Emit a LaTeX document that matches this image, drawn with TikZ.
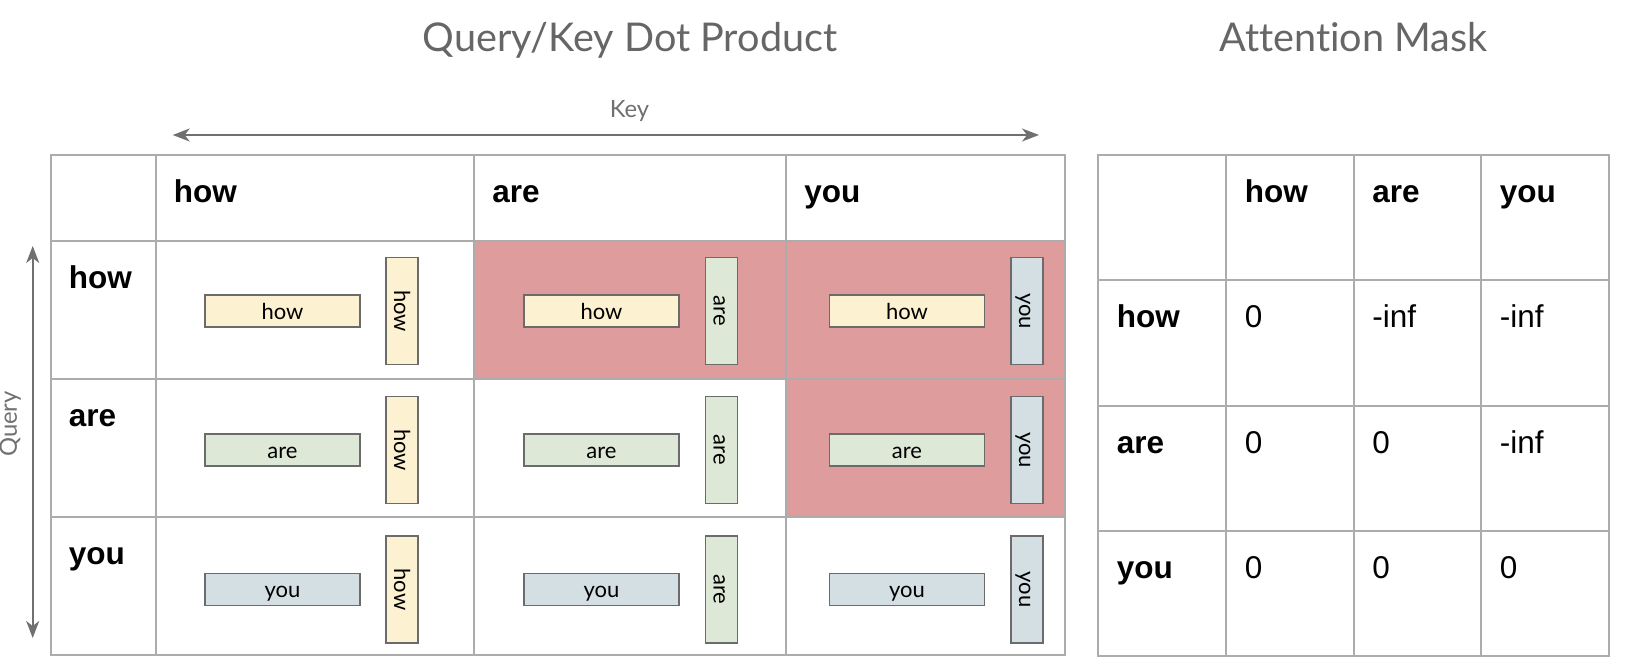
\documentclass[tikz,border=0pt]{standalone}
\usepackage{fontspec}
\setmainfont{Liberation Sans}
\newfontfamily\lato[Ligatures=NoCommon]{Lato}
\usetikzlibrary{arrows.meta, positioning}
\definecolor{gridgray}{RGB}{172,172,172}
\definecolor{axisgray}{RGB}{112,112,112}
\definecolor{titlegray}{RGB}{102,102,102}
\definecolor{maskred}{RGB}{223,156,156}
\definecolor{howyellow}{RGB}{252,241,208}
\definecolor{aregreen}{RGB}{221,232,214}
\definecolor{youblue}{RGB}{211,223,227}
\definecolor{boxgray}{RGB}{107,107,107}

\tikzset{
  tok/.style={draw=boxgray, line width=0.75pt, inner sep=0pt, text height=9pt, text depth=1pt, font=\lato\fontsize{11}{12}\selectfont},
  qtok/.style={tok, minimum width=77.5pt, minimum height=16pt},
  ktok/.style={tok, minimum width=53.5pt, minimum height=16pt, rotate=-90},
  word/.style={anchor=base west, inner sep=0pt, font=\bfseries\fontsize{15.75}{18}\selectfont},
  score/.style={anchor=base west, inner sep=0pt, font=\fontsize{15.75}{18}\selectfont},
  tablegrid/.style={draw=gridgray, line width=1pt},
  axis/.style={draw=axisgray, line width=0.9pt, {Stealth[length=8.5pt, width=6.5pt, inset=2.5pt]}-{Stealth[length=8.5pt, width=6.5pt, inset=2.5pt]}},
  heading/.style={anchor=base, inner sep=0pt, text=titlegray, font=\lato\fontsize{19.8}{22}\selectfont},
  axislabel/.style={anchor=base, inner sep=0pt, text=axisgray, font=\lato\fontsize{11.9}{14}\selectfont}
}

\begin{document}
\begin{tikzpicture}[x=0.5pt, y=-0.5pt]
  \useasboundingbox (0,0) rectangle (1626,668);

  % Titles
  \node[heading] (dotTitle) at (630,52) {Query/Key Dot Product};
  \node[heading] (maskTitle) at (1353.5,52) {Attention Mask};

  % Axes
  \node[axislabel] (keyLabel) at (629.5,117.3) {Key};
  \coordinate (keyL) at (172.7,135);
  \coordinate (keyR) at (1039,135);
  \draw[axis] (keyL) -- (keyR);
  \node[axislabel, rotate=90] (queryLabel) at (17,424) {Query};
  \coordinate (queryT) at (32.7,246);
  \coordinate (queryB) at (32.7,638);
  \draw[axis] (queryT) -- (queryB);

  % Dot product table: masked cells
  \fill[maskred] (474,241) rectangle (1065,379);
  \fill[maskred] (786,379) rectangle (1065,517);

  % Dot product table: grid
  \draw[tablegrid] (50.5,155) rectangle (1065,655);
  \draw[tablegrid] (155.5,155) -- (155.5,655);
  \draw[tablegrid] (474,155) -- (474,655);
  \draw[tablegrid] (786,155) -- (786,655);
  \draw[tablegrid] (50.5,241) -- (1065,241);
  \draw[tablegrid] (50.5,379) -- (1065,379);
  \draw[tablegrid] (50.5,517) -- (1065,517);

  % Dot product table: keys and queries
  \node[word] (kHow) at (173.5,202.5) {how};
  \node[word] (kAre) at (492,202.5) {are};
  \node[word] (kYou) at (804,202.5) {you};
  \node[word] (qHow) at (68.5,288.5) {how};
  \node[word] (qAre) at (68.5,426.5) {are};
  \node[word] (qYou) at (68.5,564.5) {you};

  % Row 1: query how
  \node[qtok, fill=howyellow] (q11) at (282.5,311) {how};
  \node[ktok, fill=howyellow] (k11) at (402,311) {how};
  \node[qtok, fill=howyellow] (q12) at (601.5,311) {how};
  \node[ktok, fill=aregreen] (k12) at (721.5,311) {are};
  \node[qtok, fill=howyellow] (q13) at (907,311) {how};
  \node[ktok, fill=youblue] (k13) at (1027,311) {you};

  % Row 2: query are
  \node[qtok, fill=aregreen] (q21) at (282.5,450) {are};
  \node[ktok, fill=howyellow] (k21) at (402,450) {how};
  \node[qtok, fill=aregreen] (q22) at (601.5,450) {are};
  \node[ktok, fill=aregreen] (k22) at (721.5,450) {are};
  \node[qtok, fill=aregreen] (q23) at (907,450) {are};
  \node[ktok, fill=youblue] (k23) at (1027,450) {you};

  % Row 3: query you
  \node[qtok, fill=youblue] (q31) at (282.5,589.5) {you};
  \node[ktok, fill=howyellow] (k31) at (402,589.5) {how};
  \node[qtok, fill=youblue] (q32) at (601.5,589.5) {you};
  \node[ktok, fill=aregreen] (k32) at (721.5,589.5) {are};
  \node[qtok, fill=youblue] (q33) at (907,589.5) {you};
  \node[ktok, fill=youblue] (k33) at (1027,589.5) {you};

  % Mask table: grid
  \draw[tablegrid] (1098,155) rectangle (1608.5,656);
  \draw[tablegrid] (1226,155) -- (1226,656);
  \draw[tablegrid] (1353.5,155) -- (1353.5,656);
  \draw[tablegrid] (1481,155) -- (1481,656);
  \draw[tablegrid] (1098,280.25) -- (1608.5,280.25);
  \draw[tablegrid] (1098,405.5) -- (1608.5,405.5);
  \draw[tablegrid] (1098,530.75) -- (1608.5,530.75);

  % Mask table: labels
  \node[word] (mkHow) at (1244.5,202.5) {how};
  \node[word] (mkAre) at (1372,202.5) {are};
  \node[word] (mkYou) at (1499.5,202.5) {you};
  \node[word] (mqHow) at (1116.5,327.75) {how};
  \node[word] (mqAre) at (1116.5,453) {are};
  \node[word] (mqYou) at (1116.5,578.25) {you};

  % Mask table: values
  \node[score] (m11) at (1244.5,327.75) {0};
  \node[score] (m12) at (1372,327.75) {-inf};
  \node[score] (m13) at (1499.5,327.75) {-inf};
  \node[score] (m21) at (1244.5,453) {0};
  \node[score] (m22) at (1372,453) {0};
  \node[score] (m23) at (1499.5,453) {-inf};
  \node[score] (m31) at (1244.5,578.25) {0};
  \node[score] (m32) at (1372,578.25) {0};
  \node[score] (m33) at (1499.5,578.25) {0};
\end{tikzpicture}
\end{document}
